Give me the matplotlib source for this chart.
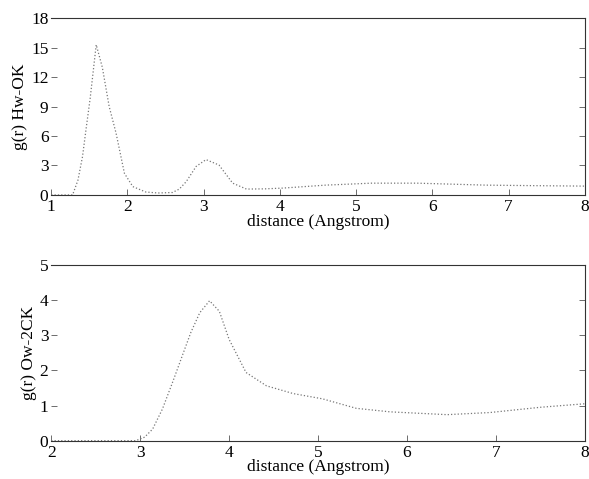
import numpy as np
import matplotlib
matplotlib.use("Agg")
import matplotlib.pyplot as plt

# g(r) Hw-OK
r_hw = [1.0, 1.28, 1.35, 1.41, 1.46, 1.51, 1.59, 1.67, 1.76, 1.85, 1.96, 2.07, 2.24, 2.4, 2.59,
        2.68, 2.77, 2.9, 3.03, 3.2, 3.38, 3.56, 3.8, 4.04, 4.6, 5.2, 5.8, 6.7, 7.3, 8.0]
g_hw = [0.0, 0.0, 1.5, 3.9, 6.9, 9.8, 15.3, 13.0, 9.0, 6.3, 2.2, 0.85, 0.3, 0.2, 0.25,
        0.6, 1.35, 2.9, 3.6, 3.05, 1.2, 0.6, 0.62, 0.7, 1.0, 1.2, 1.2, 1.0, 0.95, 0.9]

# g(r) Ow-2CK
r_ow = [2.0, 2.5, 2.95, 3.05, 3.14, 3.25, 3.37, 3.5, 3.57, 3.67, 3.78, 3.89, 4.0, 4.19, 4.42,
        4.72, 5.05, 5.43, 5.81, 6.45, 6.93, 7.5, 8.0]
g_ow = [0.0, 0.0, 0.0, 0.1, 0.33, 0.9, 1.7, 2.6, 3.08, 3.64, 3.98, 3.68, 2.88, 1.94, 1.56,
        1.34, 1.19, 0.92, 0.82, 0.74, 0.8, 0.95, 1.05]

plt.rcParams['font.family'] = ['Liberation Serif', 'DejaVu Serif']
plt.rcParams['font.size'] = 12.5

fig = plt.figure(figsize=(5.89, 4.79), dpi=100)
ax1 = fig.add_axes([0.087, 0.593, 0.906, 0.369])
ax2 = fig.add_axes([0.087, 0.08, 0.906, 0.367])


def style(ax):
    ax.spines['left'].set_visible(False)
    for s in ['top', 'right', 'bottom']:
        ax.spines[s].set_color('#333333')
        ax.spines[s].set_linewidth(0.8)
    ax.tick_params(direction='in', length=4, width=0.6, color='#555555',
                   right=True, top=False, labelsize=12.5)
    ax.tick_params(axis='y', pad=2)
    ax.tick_params(axis='x', pad=3)


ax1.plot(r_hw, g_hw, color='#777777', lw=0.9, ls=':')
ax1.set_xlim(1, 8)
ax1.set_ylim(0, 18)
ax1.set_xticks(range(1, 9))
ax1.set_yticks(range(0, 19, 3))
ax1.set_xlabel('distance (Angstrom)', labelpad=-1)
ax1.set_ylabel('g(r) Hw-OK', labelpad=2)
style(ax1)

ax2.plot(r_ow, g_ow, color='#777777', lw=0.9, ls=':')
ax2.set_xlim(2, 8)
ax2.set_ylim(0, 5)
ax2.set_xticks(range(2, 9))
ax2.set_yticks(range(0, 6))
ax2.set_xlabel('distance (Angstrom)', labelpad=-1)
ax2.set_ylabel('g(r) Ow-2CK', labelpad=2)
style(ax2)

fig.savefig('out.png', dpi=100)
